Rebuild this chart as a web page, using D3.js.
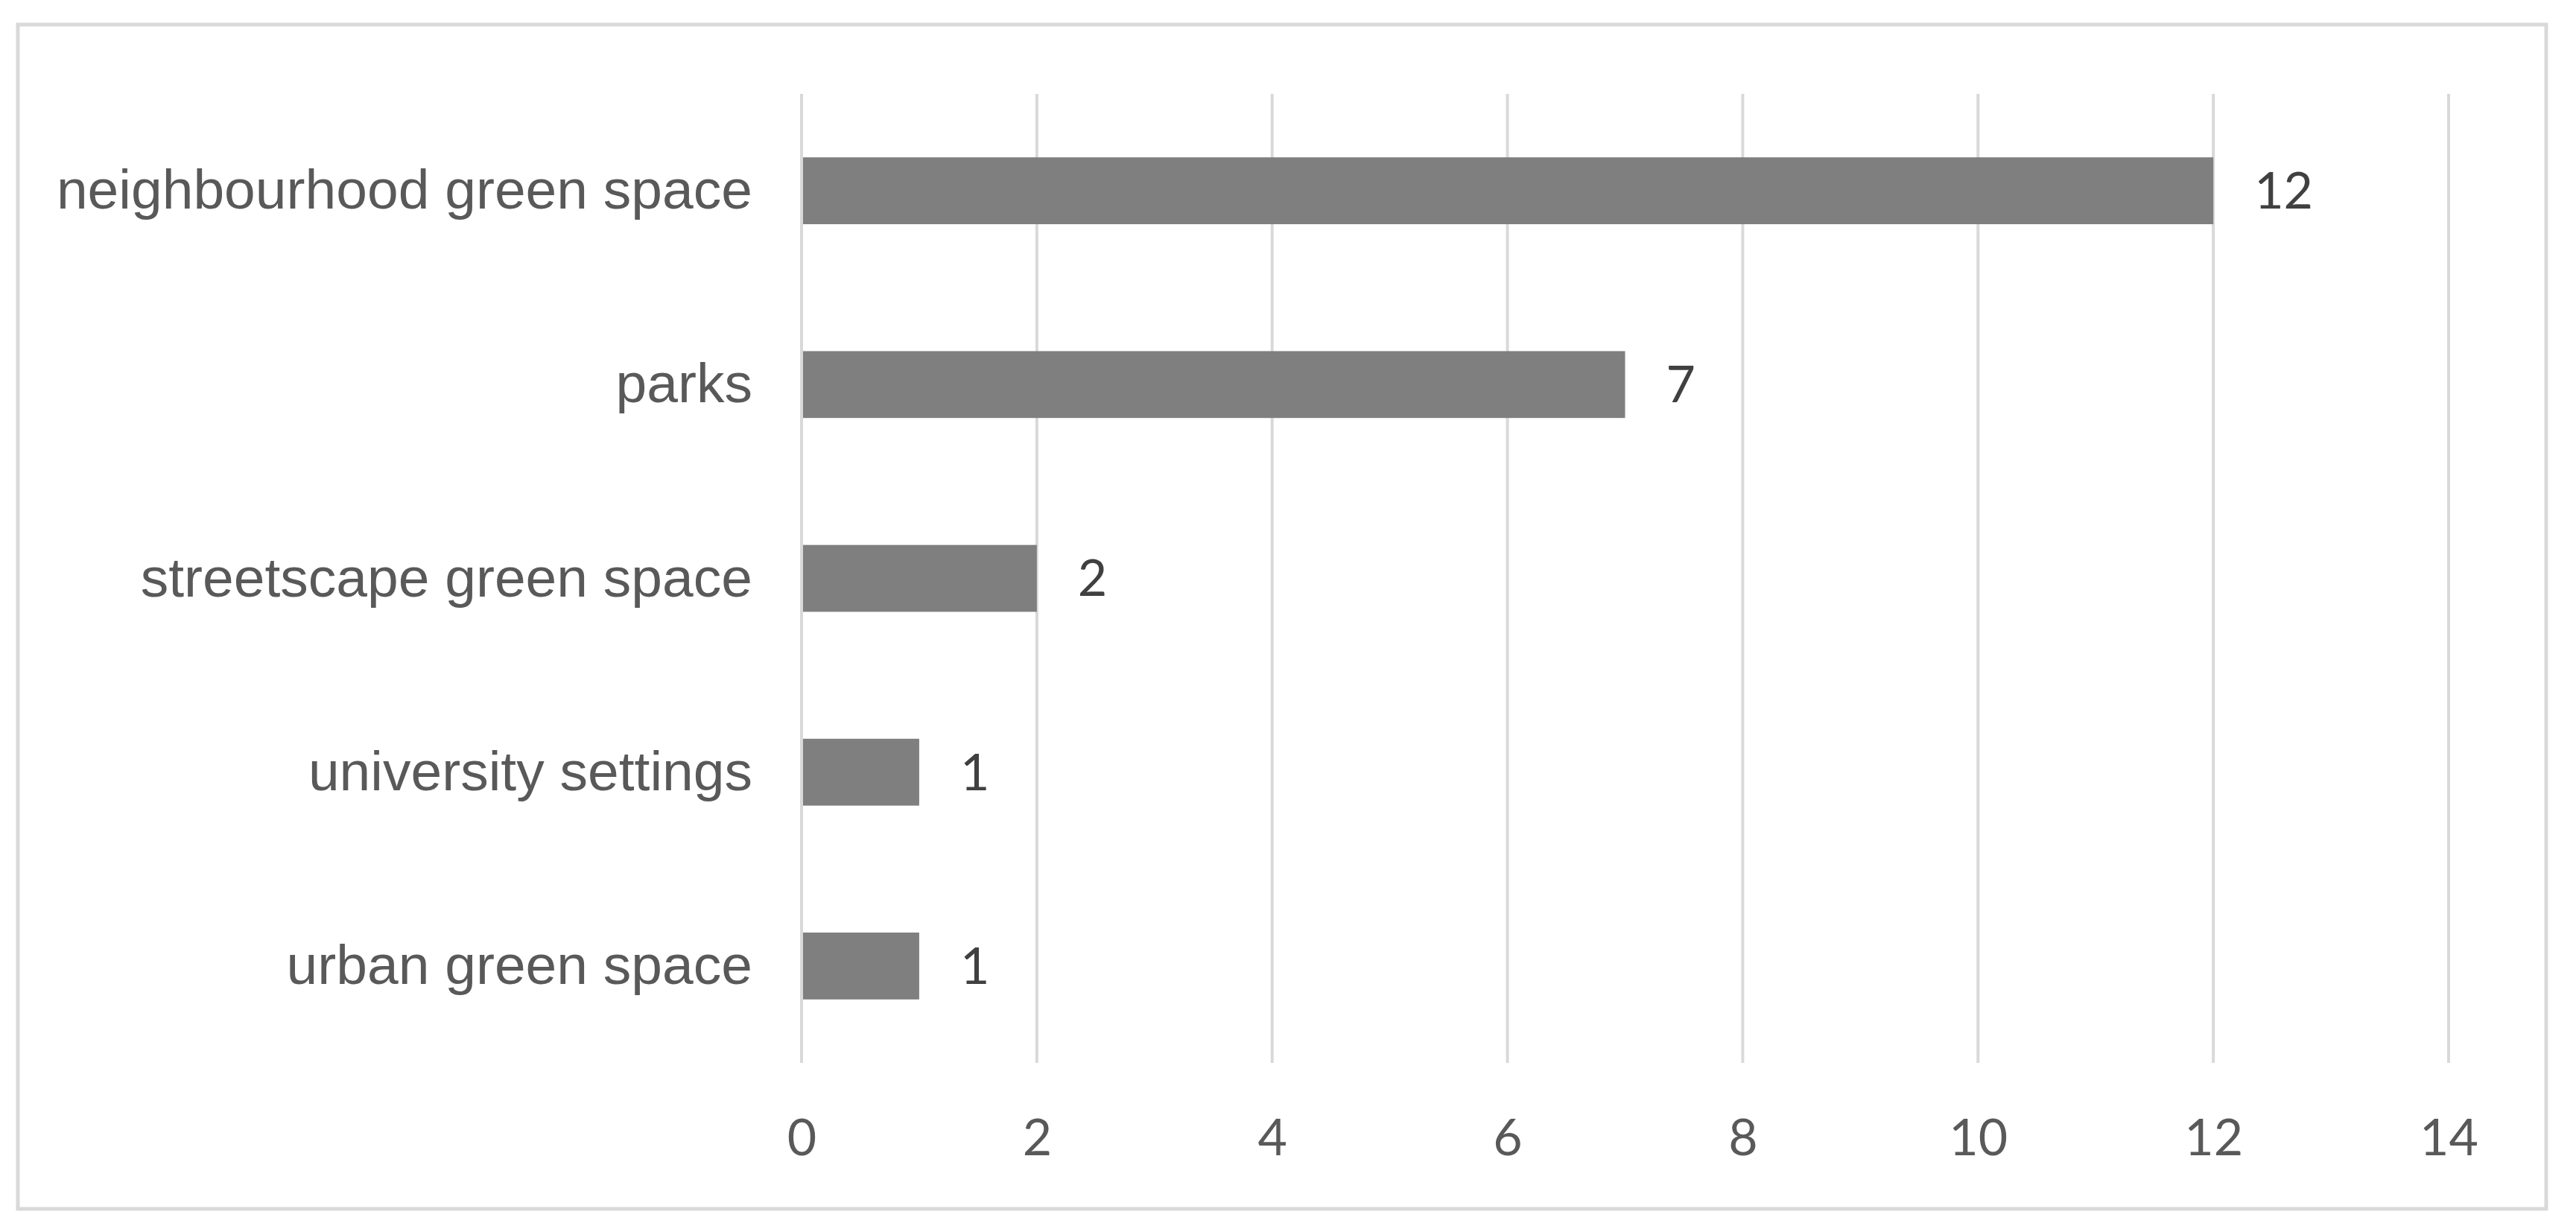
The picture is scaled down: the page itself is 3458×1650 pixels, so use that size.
<!DOCTYPE html>
<html>
<head>
<meta charset="utf-8">
<script src="https://cdn.jsdelivr.net/npm/d3@7"></script>
<style>
  body { margin: 0; background: #fff; }
</style>
</head>
<body>
<div id="chart"></div>
<script>
// Data
const categories = ["neighbourhood green space", "parks", "streetscape green space", "university settings", "urban green space"];
const counts = [12, 7, 2, 1, 1];
const xTicks = [0, 2, 4, 6, 8, 10, 12, 14];

const width = 3458;
const height = 1650;
const margin = { left: 1076, right: 171, top: 126, bottom: 223 };

const svg = d3.select("#chart")
    .append("svg")
    .attr("width", width)
    .attr("height", height);

// Outer frame of the chart area
svg.append("rect")
    .attr("x", 24)
    .attr("y", 33)
    .attr("width", 3394)
    .attr("height", 1590)
    .attr("fill", "#fff")
    .attr("stroke", "#d9d9d9")
    .attr("stroke-width", 5);

const x = d3.scaleLinear()
    .domain([0, 14])
    .range([margin.left, width - margin.right]);

const y = d3.scaleBand()
    .domain(categories)
    .range([margin.top, height - margin.bottom])
    .paddingInner(0.655)
    .paddingOuter(0.3275);

// Vertical gridlines
svg.append("g")
    .selectAll("line")
    .data(xTicks)
    .enter()
    .append("line")
    .attr("x1", d => x(d))
    .attr("x2", d => x(d))
    .attr("y1", margin.top)
    .attr("y2", height - margin.bottom)
    .attr("stroke", "#d9d9d9")
    .attr("stroke-width", 4);

// X axis labels
const xAxis = svg.append("g")
    .attr("transform", `translate(0,${height - margin.bottom})`)
    .call(d3.axisBottom(x).tickValues(xTicks).tickSize(0).tickPadding(76));
xAxis.select(".domain").remove();
xAxis.selectAll("text")
    .attr("fill", "#595959")
    .style("font-family", "Lato, 'Open Sans', sans-serif")
    .style("font-size", "68px");

// Category labels
const yAxis = svg.append("g")
    .attr("transform", `translate(${margin.left},0)`)
    .call(d3.axisLeft(y).tickSize(0).tickPadding(66));
yAxis.select(".domain").remove();
yAxis.selectAll("text")
    .attr("fill", "#595959")
    .style("font-family", "'Liberation Sans', Arial, sans-serif")
    .style("font-size", "75px");

// Bars
const rows = categories.map((c, i) => ({ category: c, value: counts[i] }));

svg.append("g")
    .selectAll("rect")
    .data(rows)
    .enter()
    .append("rect")
    .attr("x", x(0) + 2)
    .attr("y", d => y(d.category))
    .attr("width", d => x(d.value) - x(0) - 2)
    .attr("height", y.bandwidth())
    .attr("fill", "#7f7f7f");

// Value labels
svg.append("g")
    .selectAll("text")
    .data(rows)
    .enter()
    .append("text")
    .attr("x", d => x(d.value) + 55)
    .attr("y", d => y(d.category) + y.bandwidth() / 2)
    .attr("dy", "0.35em")
    .attr("fill", "#404040")
    .style("font-family", "Lato, 'Open Sans', sans-serif")
    .style("font-size", "68px")
    .text(d => d.value);
</script>
</body>
</html>
